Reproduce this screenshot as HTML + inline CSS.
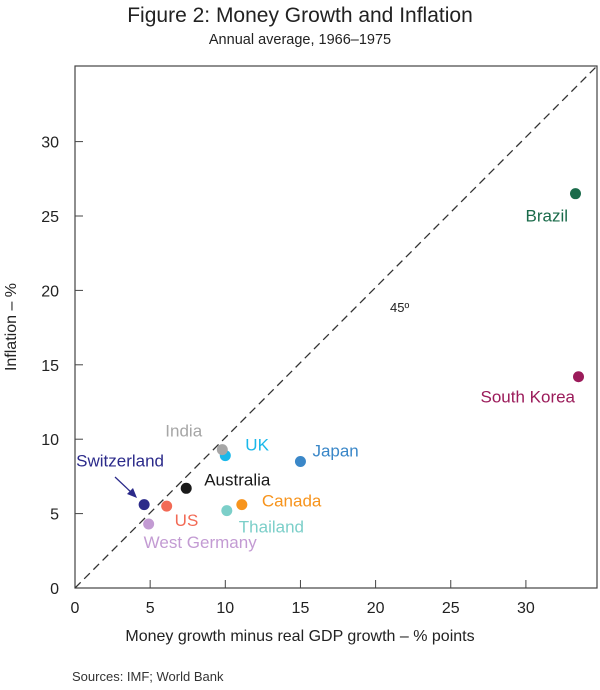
<!DOCTYPE html>
<html><head><meta charset="utf-8"><style>
body{margin:0;background:#fff;}
svg text{font-family:"Liberation Sans",sans-serif;}
</style></head><body>
<svg id="c" width="600" height="685" viewBox="0 0 600 685">
<text x="300" y="22" text-anchor="middle" font-size="21" fill="#222">Figure 2: Money Growth and Inflation</text>
<text x="300" y="44" text-anchor="middle" font-size="14.5" fill="#222">Annual average, 1966–1975</text>
<rect x="75" y="66" width="522" height="522" fill="none" stroke="#444" stroke-width="1.2"/>
<g id="ticks"></g>
<g id="pts"></g>
<text x="300" y="641" text-anchor="middle" font-size="16" fill="#222">Money growth minus real GDP growth – % points</text>
<text transform="translate(16,327) rotate(-90)" text-anchor="middle" font-size="16" fill="#222">Inflation – %</text>
<text x="72" y="681" font-size="13" fill="#333">Sources:   IMF; World Bank</text>
</svg>
<script>
const xTicks=[0,5,10,15,20,25,30];
const yTicks=[0,5,10,15,20,25,30];
const countries=["Brazil","South Korea","Japan","UK","India","Australia","Switzerland","US","Canada","Thailand","West Germany"];
const moneyGrowth=[33.3,33.5,15.0,10.0,9.8,7.4,4.6,6.1,11.1,10.1,4.9];
const inflation=[26.5,14.2,8.5,8.9,9.3,6.7,5.6,5.5,5.6,5.2,4.3];
const colors=["#1a6b4a","#9b1b5a","#3a87c8","#1ab8ea","#a6a6a6","#1a1a1a","#2b2a8a","#f26a55","#f7941d","#7ccfc9","#c39bd3"];
const labelOffsets=[[-50,28],[-98,26],[12,-5],[20,-5],[-57,-13],[18,-3],[-68,-38],[8,20],[20,2],[12,22],[-5,24]];
const X=v=>75+v*15.03, Y=v=>588-v*14.88;
const NS="http://www.w3.org/2000/svg";
const tg=document.getElementById('ticks'), pg=document.getElementById('pts');
function mk(tag,attrs,parent){const e=document.createElementNS(NS,tag);for(const k in attrs)e.setAttribute(k,attrs[k]);parent.appendChild(e);return e;}
xTicks.forEach(v=>{
  const l=mk('line',{x1:X(v),x2:X(v),y1:588,y2:580,stroke:'#444'},tg);
  
  
  const t=mk('text',{x:X(v),y:613,'text-anchor':'middle','font-size':16,fill:'#222'},tg);t.textContent=v;
  
  
});
yTicks.forEach(v=>{
  const l=mk('line',{x1:75,x2:83,y1:Y(v),y2:Y(v),stroke:'#444'},tg);
  
  
  const t=mk('text',{x:59,y:Y(v)+6,'text-anchor':'end','font-size':16,fill:'#222'},tg);t.textContent=v;
  
  
});
const d=mk('line',{x1:X(0),y1:Y(0),x2:597,y2:66,stroke:'#333','stroke-width':1.3,'stroke-dasharray':'8,5'},tg);


const d45=mk('text',{x:390,y:312,'font-size':13,fill:'#222'},tg);d45.textContent='45º';


countries.forEach((c,i)=>{
  const cx=X(moneyGrowth[i]), cy=Y(inflation[i]);
  const p=mk('circle',{cx:cx,cy:cy,r:5.5,fill:colors[i]},pg);
  
  
  const t=mk('text',{x:cx+labelOffsets[i][0],y:cy+labelOffsets[i][1],'font-size':17,fill:colors[i]},pg);t.textContent=c;
  
  
});
const a=mk('line',{x1:115,y1:477,x2:133,y2:494,stroke:'#2b2a8a','stroke-width':1.3},pg);


const ah=mk('polygon',{points:'137,498 127,494 133,488',fill:'#2b2a8a'},pg);


</script>
</body></html>
